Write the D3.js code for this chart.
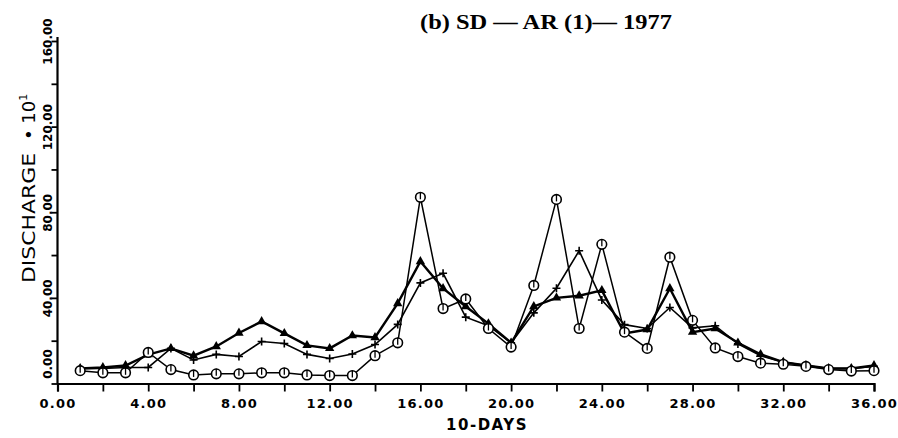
<!DOCTYPE html>
<html><head><meta charset="utf-8">
<script src="https://cdn.jsdelivr.net/npm/d3@7"></script>
<style>body{margin:0;background:#fff}svg{display:block}</style>
</head><body><svg id="c" width="898" height="438"></svg>
<script>
const days = [1,2,3,4,5,6,7,8,9,10,11,12,13,14,15,16,17,18,19,20,21,22,23,24,25,26,27,28,29,30,31,32,33,34,35,36];
const observed = [6,5,5,14.5,6.5,4,4.5,4.5,5,5,4,3.7,3.7,13,19,87,35,39.5,25.7,17,45.8,86,25.7,65,24,16.4,59,29.5,16.6,12.6,9.5,9,8,6.5,5.8,6];
const modelA = [7,7.5,8.4,13.5,16.4,13,17.3,23.6,29,23.4,17.8,16.4,22.4,21.5,37.4,57,44.4,36,28,19,36,40,41,43.5,23.4,25.2,44.4,24,25.7,19,13.6,10,8.4,7,7,8.4];
const modelB = [7,7,7.5,7.5,16.4,11,13.6,12.6,19.6,18.7,13.6,11.7,13.8,18.2,27.6,47,51.5,31,27,19,33,44.5,62,39,27.5,25.7,35.5,26,27,18.5,13,10,8.4,7,7,8];
const xTicks = [0,2,4,6,8,10,12,14,16,18,20,22,24,26,28,30,32,34,36];
const xLabels = [0,4,8,12,16,20,24,28,32,36];
const yTicks = [0,20,40,60,80,100,120,140,160];
const yLabels = [0,40,80,120,160];
const title = "(b) SD \u2014 AR (1)\u2014 1977";

const svg = d3.select("#c");
const x = d3.scaleLinear().domain([0,36]).range([57.5,874]);
const y = d3.scaleLinear().domain([0,160]).range([383.5,41]);

// axes
const xa = svg.append("g").attr("transform","translate(0,383.5)")
  .call(d3.axisBottom(x).tickValues(xTicks).tickSize(8).tickFormat(d => xLabels.includes(d) ? d3.format(".2f")(d) : ""));
xa.select(".domain").attr("stroke-width",2.2);
xa.selectAll(".tick line").attr("stroke-width",1.8);
xa.selectAll("text").attr("font-family","DejaVu Sans").attr("font-weight","bold").attr("font-size",13)
  .attr("letter-spacing",1.2).attr("dy","1.05em").attr("fill","#000");

const ya = svg.append("g").attr("transform","translate(57.5,0)")
  .call(d3.axisLeft(y).tickValues(yTicks).tickSize(6).tickFormat(d => yLabels.includes(d) ? d3.format(".2f")(d) : ""));
ya.select(".domain").attr("stroke-width",2.2).attr("d","M0,383.5V37");
ya.selectAll(".tick line").attr("stroke-width",1.8);
ya.selectAll("text").attr("font-family","DejaVu Sans").attr("font-weight","bold").attr("font-size",12)
  .attr("fill","#000").attr("text-anchor","middle")
  .attr("transform","rotate(-90)").attr("x",0).attr("y",-6).attr("dy","0")
  .attr("dx", d => d === 0 ? 20 : 0);
svg.selectAll(".domain").attr("stroke","#000");

// axis titles
svg.append("text").attr("x",487).attr("y",430).attr("text-anchor","middle")
  .attr("font-family","DejaVu Sans").attr("font-weight","bold").attr("font-size",15).attr("letter-spacing",1.5)
  .text("10-DAYS");
svg.append("text").attr("transform","translate(35,283) rotate(-90)")
  .attr("font-family","DejaVu Sans").attr("font-size",18)
  .attr("textLength",130).attr("lengthAdjust","spacingAndGlyphs").text("DISCHARGE");
const yt = svg.append("text").attr("transform","translate(35,140) rotate(-90)")
  .attr("font-family","DejaVu Sans").attr("font-size",18);
yt.append("tspan").text("\u2022 10");
yt.append("tspan").attr("font-size",11).attr("dy",-8).text("1");

svg.append("text").attr("x",420).attr("y",29)
  .attr("font-family","Liberation Serif").attr("font-weight","bold").attr("font-size",20)
  .attr("textLength",252).attr("lengthAdjust","spacingAndGlyphs").text(title);

const line = d3.line().x((d,i)=>x(days[i])).y(d=>y(d));

svg.append("path").datum(modelA).attr("d",line).attr("fill","none").attr("stroke","#000").attr("stroke-width",2.4);
svg.append("path").datum(modelB).attr("d",line).attr("fill","none").attr("stroke","#000").attr("stroke-width",1.6);
svg.append("path").datum(observed).attr("d",line).attr("fill","none").attr("stroke","#000").attr("stroke-width",1.5);

// triangle markers
svg.append("g").selectAll("path").data(modelA).join("path")
  .attr("transform",(d,i)=>`translate(${x(days[i])},${y(d)})`)
  .attr("d",d3.symbol().type(d3.symbolTriangle).size(38)).attr("fill","#000");
// plus markers
svg.append("g").selectAll("path").data(modelB).join("path")
  .attr("transform",(d,i)=>`translate(${x(days[i])},${y(d)})`)
  .attr("d","M-4,0H4M0,-4V4").attr("stroke","#000").attr("stroke-width",1.6).attr("fill","none");
// circle markers
const cg = svg.append("g").selectAll("g").data(observed).join("g")
  .attr("transform",(d,i)=>`translate(${x(days[i])},${y(d)})`);
cg.append("circle").attr("r",4.8).attr("fill","#fff").attr("stroke","#000").attr("stroke-width",1.6);
cg.append("line").attr("y1",-5).attr("y2",2).attr("stroke","#000").attr("stroke-width",1.3);
</script></body></html>
